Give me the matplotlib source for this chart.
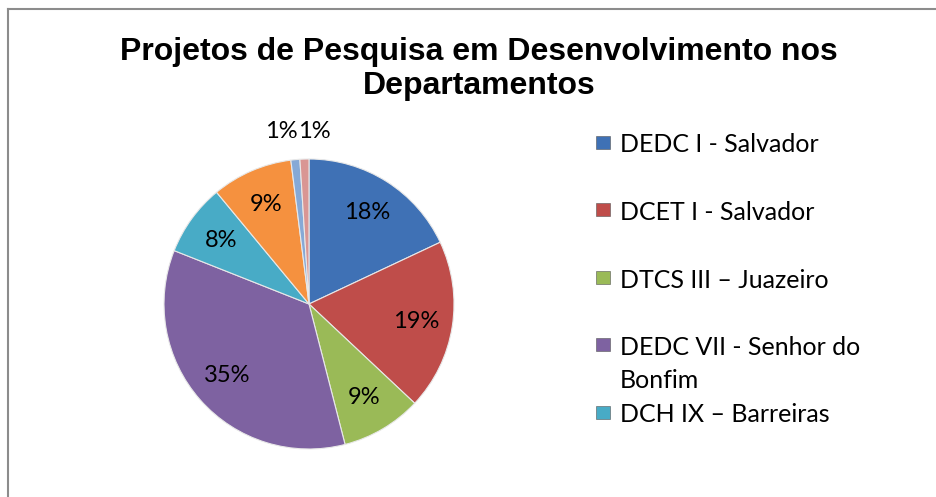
import numpy as np
import matplotlib.pyplot as plt
from matplotlib.lines import Line2D
from matplotlib.patches import Rectangle

# shares of research projects per department (percent)
valores = [18, 19, 9, 35, 8, 9, 1, 1]
cores = ['#3f71b5', '#bf4d4a', '#9aba57', '#7e62a1', '#48abc6', '#f5913f', '#86a9d6', '#d99694']
# Excel only shows the first five legend entries
legenda = ['DEDC I - Salvador', 'DCET I - Salvador', 'DTCS III \u2013 Juazeiro',
           'DEDC VII - Senhor do\nBonfim', 'DCH IX \u2013 Barreiras']
titulo = 'Projetos de Pesquisa em Desenvolvimento nos\nDepartamentos'

W, H = 936, 497
fig = plt.figure(figsize=(W / 100, H / 100), dpi=100)
fig.patch.set_facecolor('white')

# chart frame: only left and top edges are inside the crop
fig.add_artist(Line2D([8 / W, 8 / W], [-0.1, 1 - 9 / H], transform=fig.transFigure,
                      color='#8c8c8c', linewidth=1.5))
fig.add_artist(Line2D([8 / W, 1.1], [1 - 9 / H, 1 - 9 / H], transform=fig.transFigure,
                      color='#8c8c8c', linewidth=1.5))

cx, cy, r = 309, H - 304, 145
lim = 1.25
ax = fig.add_axes([(cx - lim * r) / W, (cy - lim * r) / H, 2 * lim * r / W, 2 * lim * r / H])

wedges, texts, autotexts = ax.pie(valores, colors=cores, startangle=90, counterclock=False,
                                  autopct='%1.0f%%', pctdistance=0.75,
                                  wedgeprops=dict(edgecolor='#e8e8e8', linewidth=0.8),
                                  textprops=dict(fontsize=17, family='Lato', color='black'))
ax.set_xlim(-lim, lim)
ax.set_ylim(-lim, lim)
ax.set_aspect('equal')
ax.axis('off')

# the two 1% labels sit above the pie, side by side
small = [i for i, v in enumerate(valores) if v <= 1]
xs = []
for i in small:
    w = wedges[i]
    ang = np.deg2rad((w.theta1 + w.theta2) / 2)
    xs.append(1.2 * np.cos(ang))
xm = np.mean(xs)
for k, i in enumerate(small):
    autotexts[i].set_position((xm, 1.19))
    autotexts[i].set_ha('right' if k == 0 else 'left')

fig.text(479 / W, 1 - 69 / H, titulo, ha='center', va='center', fontsize=23,
         fontweight='bold', family='Liberation Sans', linespacing=1.18)

# legend drawn by hand so the wrapped entry keeps equal row spacing
y0, dy, dl = 143, 67.5, 33
for i, lab in enumerate(legenda):
    yy = y0 + i * dy
    fig.add_artist(Rectangle((596 / W, 1 - (yy + 5.5) / H), 14 / W, 13 / H, transform=fig.transFigure,
                             facecolor=cores[i], edgecolor='#555555', linewidth=0.4))
    for k, linha in enumerate(lab.split('\n')):
        fig.text(620 / W, 1 - (yy + k * dl) / H, linha, ha='left', va='center_baseline',
                 fontsize=18, family='Lato')

fig.savefig('out.png', dpi=100)
